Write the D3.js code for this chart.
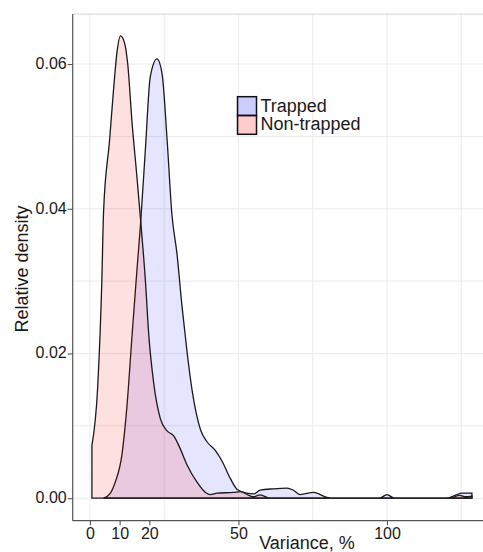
<!DOCTYPE html>
<html>
<head>
<meta charset="utf-8">
<script src="https://d3js.org/d3.v7.min.js"></script>
<style>
  body { margin: 0; background: white; }
  text { font-family: "Liberation Sans", Arial, sans-serif; fill: #1a1a1a; }
</style>
</head>
<body>
<svg id="chart"></svg>
<script>
var width = 483, height = 552;

// density curves (x = variance %, y = relative density)
var trappedX = [4.6, 6.9, 8.5, 10.8, 12.5, 14.2, 15.8, 17.0, 18.7, 20.3, 22.6, 24.3, 26.0, 27.6, 29.3, 31.0, 32.7, 34.4, 37.2, 39.4, 42.2, 44.5, 47.3, 49.6, 52.8, 55.2, 57.3, 61.8, 66.3, 68.5, 70.8, 75.3, 79.8, 81, 97.5, 100, 102.5, 120, 123.6, 125, 128.6];
var trappedY = [0, 0.0007, 0.0022, 0.0061, 0.0129, 0.0226, 0.0314, 0.0377, 0.0484, 0.0582, 0.0607, 0.0586, 0.0494, 0.0392, 0.0338, 0.0265, 0.0202, 0.0149, 0.0095, 0.0078, 0.0066, 0.0051, 0.0027, 0.0012, 0.0007, 0.0006, 0.0011, 0.0013, 0.0014, 0.0011, 0.0005, 0.0008, 0.0001, 0, 0, 0.0005, 0, 0, 0.0005, 0.0007, 0.0007];

var nonTrappedX = [0.67, 2.6, 4.0, 4.6, 6.6, 8.0, 9.1, 10.3, 11.6, 12.7, 14.2, 15.8, 17.0, 18.7, 19.8, 21.5, 23.7, 26.0, 28.2, 29.9, 32.7, 36.1, 38.9, 40.6, 42.8, 48.4, 50.7, 53.5, 55.0, 57.3, 60.7, 121, 124.5, 126.5, 128.6];
var nonTrappedY = [0.0073, 0.0153, 0.0299, 0.0397, 0.0494, 0.0567, 0.0616, 0.0639, 0.0630, 0.0601, 0.0518, 0.0445, 0.0387, 0.0299, 0.0226, 0.0158, 0.0110, 0.0093, 0.0086, 0.0073, 0.0046, 0.0022, 0.0008, 0.0005, 0.0007, 0.0008, 0.0009, 0.0004, 0.0002, 0.00045, 0, 0, 0.0004, 0.0002, 0.0003];

var xTicks = [0, 10, 20, 50, 100];
var xGrid = [0, 25, 50, 75, 100, 125];
var yTicks = [0, 0.02, 0.04, 0.06];
var yGrid = [0, 0.01, 0.02, 0.03, 0.04, 0.05, 0.06];
var legendLabels = ["Trapped", "Non-trapped"];

var svg = d3.select("#chart").attr("width", width).attr("height", height);

var pLeft = 72.7, pRight = 485, pTop = 14.1, pBottom = 520.7;
var x = d3.scaleLinear().domain([-5.8, 133]).range([pLeft, pRight]);
var y = d3.scaleLinear().domain([-0.00311, 0.0669]).range([pBottom, pTop]);

// grid
svg.append("g").selectAll("line").data(xGrid).enter().append("line")
  .attr("x1", function(d) { return x(d); }).attr("x2", function(d) { return x(d); })
  .attr("y1", pTop).attr("y2", pBottom)
  .attr("stroke", "#ebebeb").attr("stroke-width", 1);
svg.append("g").selectAll("line").data(yGrid).enter().append("line")
  .attr("x1", pLeft).attr("x2", pRight)
  .attr("y1", function(d) { return y(d); }).attr("y2", function(d) { return y(d); })
  .attr("stroke", "#ebebeb").attr("stroke-width", 1);

// top border of panel
svg.append("line").attr("x1", pLeft).attr("x2", pRight).attr("y1", pTop).attr("y2", pTop)
  .attr("stroke", "#d6d6d6").attr("stroke-width", 1);

// densities
var area = d3.area()
  .x(function(d) { return x(d[0]); })
  .y0(y(0))
  .y1(function(d) { return y(d[1]); })
  .curve(d3.curveMonotoneX);

var trapped = trappedX.map(function(v, i) { return [v, trappedY[i]]; });
var nonTrapped = nonTrappedX.map(function(v, i) { return [v, nonTrappedY[i]]; });

svg.append("path").datum(trapped).attr("d", area)
  .attr("fill", "rgba(0,0,255,0.1)").attr("stroke", "#1a1a1a").attr("stroke-width", 1.3);
svg.append("path").datum(nonTrapped).attr("d", area)
  .attr("fill", "rgba(255,0,0,0.12)").attr("stroke", "#1a1a1a").attr("stroke-width", 1.3);

// axes
var xAxis = svg.append("g").attr("transform", "translate(0," + pBottom + ")")
  .call(d3.axisBottom(x).tickValues(xTicks).tickSize(4.5).tickPadding(3).tickFormat(d3.format("d")));
var yAxis = svg.append("g").attr("transform", "translate(" + pLeft + ",0)")
  .call(d3.axisLeft(y).tickValues(yTicks).tickSize(5).tickPadding(1).tickFormat(d3.format(".2f")));
[xAxis, yAxis].forEach(function(a) {
  a.select(".domain").attr("stroke", "#555").attr("stroke-width", 1.2);
  a.selectAll(".tick line").attr("stroke", "#555").attr("stroke-width", 1.1);
  a.selectAll("text").style("font-size", "16px").attr("fill", "#1a1a1a")
    .style("font-family", "'Liberation Sans', Arial, sans-serif");
});
yAxis.select(".domain").attr("d", "M0," + pBottom + "V" + pTop);
xAxis.select(".domain").attr("d", "M" + pLeft + ",0H" + pRight);
yAxis.selectAll("text").attr("dy", "0.28em");
xAxis.selectAll("text").attr("dy", "0").attr("y", 18.3);

// axis titles
svg.append("text").attr("x", 307).attr("y", 549).attr("text-anchor", "middle")
  .style("font-size", "18px").text("Variance, %");
svg.append("text").attr("transform", "translate(28,269) rotate(-90)").attr("text-anchor", "middle")
  .style("font-size", "18px").text("Relative density");

// legend
var legendFill = ["rgba(0,0,255,0.2)", "rgba(255,0,0,0.2)"];
var lg = svg.append("g").attr("transform", "translate(237.5,96.7)");
lg.selectAll("rect").data(legendLabels).enter().append("rect")
  .attr("x", 0).attr("y", function(d, i) { return i * 18.8; })
  .attr("width", 19).attr("height", 18.8)
  .attr("fill", function(d, i) { return legendFill[i]; })
  .attr("stroke", "#111").attr("stroke-width", 1.5);
lg.selectAll("text").data(legendLabels).enter().append("text")
  .attr("x", 23).attr("y", function(d, i) { return 15 + i * 18.4; })
  .style("font-size", "18px").text(function(d) { return d; });
</script>
</body>
</html>
